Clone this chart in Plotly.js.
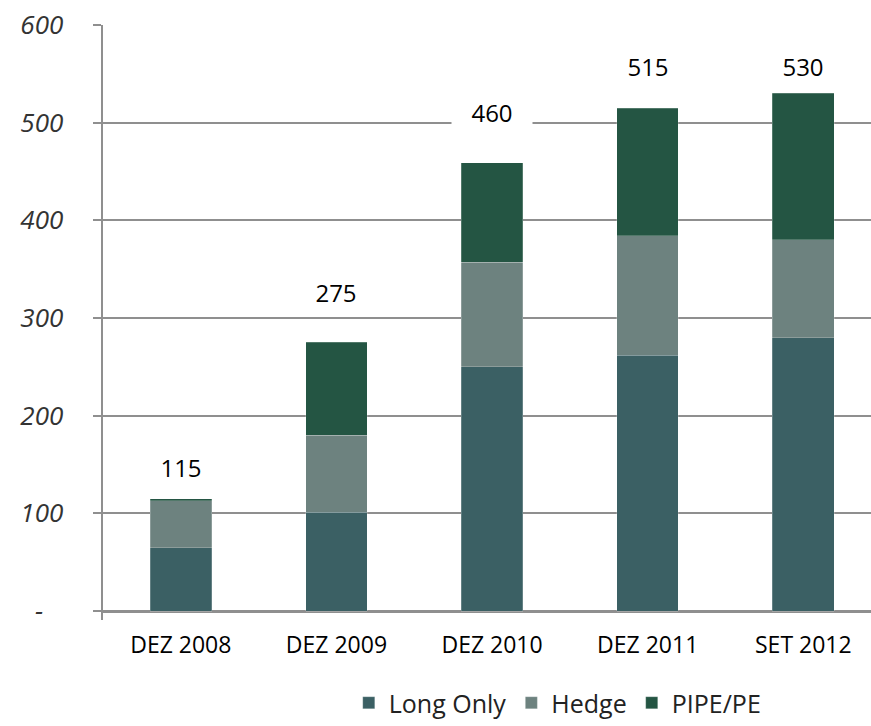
<!DOCTYPE html>
<html>
<head>
<meta charset="utf-8">
<script src="https://cdn.plot.ly/plotly-3.0.1.min.js"></script>
<style>html,body{margin:0;padding:0;background:#fff;}#chart{width:871px;height:726px;}</style>
</head>
<body>
<div id="chart"></div>
<script>
// ---- data ----
const categories = ["DEZ 2008", "DEZ 2009", "DEZ 2010", "DEZ 2011", "SET 2012"];
const longOnly = [65, 101, 250, 262, 280];
const hedge = [48, 79, 107, 122, 100];
const pipePE = [2, 95, 102, 131, 150];
const totalLabels = ["115", "275", "460", "515", "530"];
const yTickVals = [0, 100, 200, 300, 400, 500, 600];
const yTickText = ["-\u00a0\u00a0\u00a0", "100", "200", "300", "400", "500", "600"];

// ---- styling / layout ----
const FONT = "'Open Sans', Lato, sans-serif";
const gridCol = "#8f8f8f";
const lineStyle = {width: 0.6, color: "rgba(255,255,255,0.35)"};

const traces = [
  {type: "bar", name: "Long Only", x: categories, y: longOnly, marker: {color: "#3b6064", line: lineStyle}},
  {type: "bar", name: "Hedge", x: categories, y: hedge, marker: {color: "#6d827f", line: lineStyle}},
  {type: "bar", name: "PIPE/PE", x: categories, y: pipePE, marker: {color: "#245543", line: lineStyle}}
];

// label heights above each stack (layout placement, in axis units above the stack top)
const labelLift = [33, 52, 52, 43, 28];
const annotations = categories.map((c, i) => {
  const top = longOnly[i] + hedge[i] + pipePE[i];
  return {
    x: c, y: top + labelLift[i], xref: "x", yref: "y",
    text: totalLabels[i], showarrow: false,
    font: {family: FONT, size: 24, color: "#000", weight: "normal"},
    bgcolor: "#ffffff", width: 78, height: 30
  };
});

const layout = {
  width: 871, height: 726,
  paper_bgcolor: "#fff", plot_bgcolor: "#fff",
  margin: {l: 103, r: 0, t: 25, b: 102},
  barmode: "stack",
  bargap: 0.604,
  showlegend: true,
  font: {family: FONT},
  xaxis: {
    range: [-0.5, 4.435],
    showline: false, showgrid: false, zeroline: false,
    ticks: "", tickfont: {family: FONT, size: 23, color: "#000", weight: "normal"},
    ticklabelstandoff: 9, fixedrange: true
  },
  yaxis: {
    range: [-9.15, 600],
    tickvals: yTickVals, ticktext: yTickText,
    tickfont: {family: FONT, size: 26, color: "#333", style: "italic", weight: "normal"},
    ticks: "outside", ticklen: 8, tickwidth: 2, tickcolor: gridCol,
    showgrid: true, gridcolor: gridCol, gridwidth: 2,
    zeroline: true, zerolinecolor: gridCol, zerolinewidth: 3,
    showline: true, linecolor: gridCol, linewidth: 2.5,
    ticklabelstandoff: 24, fixedrange: true
  },
  legend: {
    orientation: "h", x: 0.32, xanchor: "left", y: -0.14, yanchor: "middle",
    font: {family: FONT, size: 25, color: "#222", weight: "normal"},
    traceorder: "normal", itemclick: false
  },
  annotations: annotations
};

Plotly.newPlot("chart", traces, layout, {displayModeBar: false, staticPlot: true});
</script>
</body>
</html>
